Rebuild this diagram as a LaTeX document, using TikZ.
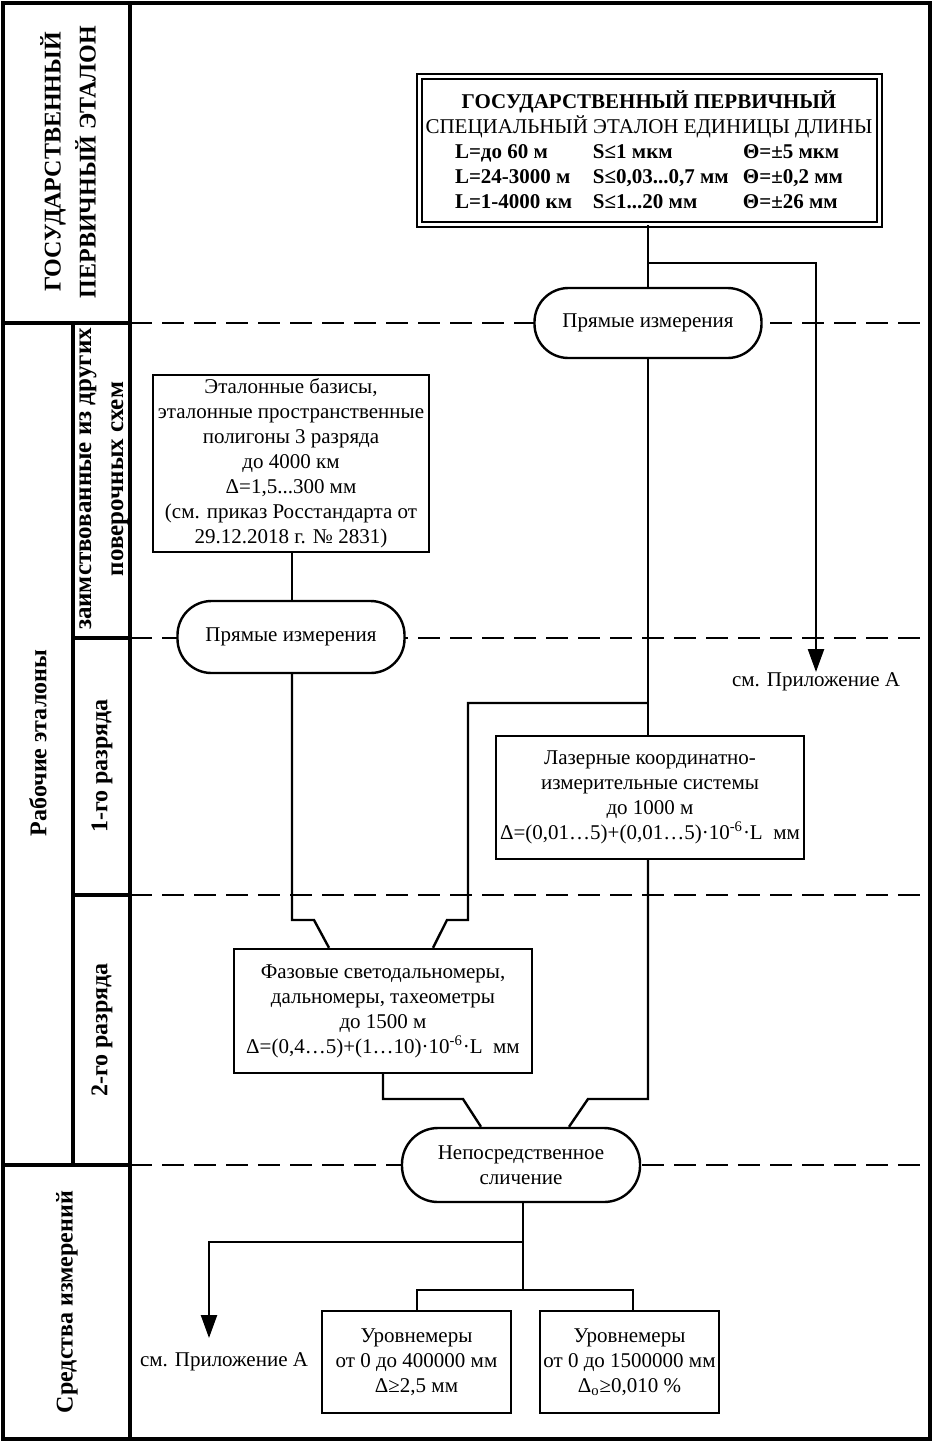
\documentclass[tikz,border=0pt]{standalone}
\usepackage{fontspec}
\setmainfont{Liberation Serif}
\usetikzlibrary{arrows.meta}
\begin{document}
\begin{tikzpicture}[x=0.5pt,y=-0.5pt,
  ln/.style={line width=1.2pt},
  frame/.style={line width=1.6pt},
  box/.style={draw,line width=1.2pt,fill=white,align=center,inner sep=0pt,font=\fontsize{10.5}{12.5}\selectfont},
  pill/.style={box,rounded corners=17pt},
  dsh/.style={line width=1.2pt,dash pattern=on 11pt off 5pt},
  lbl/.style={rotate=90,align=center,font=\bfseries\fontsize{12}{17.5}\selectfont},
  note/.style={font=\fontsize{10.5}{12.5}\selectfont,inner sep=0pt},
  arr/.style={ln,-{Triangle[length=11.5pt,width=8pt]}},
]
\useasboundingbox (0,0) rectangle (934,1442);
% frame and left column
\draw[frame] (3,3) rectangle (930,1439);
\draw[frame] (130,3) -- (130,1439);
\draw[frame] (3,323) -- (130,323);
\draw[frame] (3,1165) -- (130,1165);
\draw[frame] (73,323) -- (73,1165);
\draw[frame] (73,638) -- (130,638);
\draw[frame] (73,895) -- (130,895);
% dashed level lines
\draw[dsh] (130,323) -- (930,323);
\draw[dsh] (130,638) -- (930,638);
\draw[dsh] (130,895) -- (930,895);
\draw[dsh] (130,1165) -- (930,1165);
% left labels
\node[lbl] (l1) at (68,162) {ГОСУДАРСТВЕННЫЙ\\ПЕРВИЧНЫЙ ЭТАЛОН};
\node[lbl] (l2) at (38,743) {Рабочие эталоны};
\node[lbl,font=\bfseries\fontsize{12.5}{16}\selectfont] (l3) at (104,479) {заимствованные из других\\поверочных схем};
\node[lbl] (l4) at (102,766) {1-го разряда};
\node[lbl] (l5) at (102,1030) {2-го разряда};
\node[lbl] (l6) at (67,1302) {Средства измерений};
% nodes
\node[box,double,double distance=1.5pt,line width=1pt,minimum width=230pt,minimum height=74pt] (gpe) at (649,150)
 {\textbf{ГОСУДАРСТВЕННЫЙ ПЕРВИЧНЫЙ}\\
  СПЕЦИАЛЬНЫЙ ЭТАЛОН ЕДИНИЦЫ ДЛИНЫ\\
  \bfseries\makebox[69pt][l]{L=до 60 м}\makebox[75pt][l]{S≤1 мкм}\makebox[50pt][l]{Θ=±5 мкм}\\
  \bfseries\makebox[69pt][l]{L=24-3000 м}\makebox[75pt][l]{S≤0,03...0,7 мм}\makebox[50pt][l]{Θ=±0,2 мм}\\
  \bfseries\makebox[69pt][l]{L=1-4000 км}\makebox[75pt][l]{S≤1...20 мм}\makebox[50pt][l]{Θ=±26 мм}};
\node[pill,minimum width=113.5pt,minimum height=35pt] (pr1) at (648,323) {Прямые измерения};
\node[box,minimum width=138pt,minimum height=88.5pt] (etb) at (291,463.5)
 {Эталонные базисы,\\эталонные пространственные\\полигоны 3 разряда\\до 4000 км\\Δ=1,5...300 мм\\(см. приказ Росстандарта от\\29.12.2018 г. № 2831)};
\node[pill,minimum width=113.5pt,minimum height=36pt] (pr2) at (291,637) {Прямые измерения};
\node[box,minimum width=154pt,minimum height=61.5pt] (las) at (650,797.5)
 {Лазерные координатно-\\измерительные системы\\до 1000 м\\Δ=(0,01…5)+(0,01…5)·10\textsuperscript{-6}·L~~мм};
\node[box,minimum width=149pt,minimum height=62pt] (faz) at (383,1011)
 {Фазовые светодальномеры,\\дальномеры, тахеометры\\до 1500 м\\Δ=(0,4…5)+(1…10)·10\textsuperscript{-6}·L~~мм};
\node[pill,minimum width=119pt,minimum height=37pt,rounded corners=18pt] (nep) at (521,1165) {Непосредственное\\сличение};
\node[box,minimum width=94.5pt,minimum height=51pt] (ur1) at (416.5,1362) {Уровнемеры\\от 0 до 400000 мм\\Δ≥2,5 мм};
\node[box,minimum width=89.5pt,minimum height=51pt] (ur2) at (629.5,1362) {Уровнемеры\\от 0 до 1500000 мм\\Δ\textsubscript{o}≥0,010 \%};
\node[note] (pa1) at (816,682) {см. Приложение А};
\node[note] (pa2) at (224,1362) {см. Приложение А};
% helper coordinates
\coordinate (b1) at (648,263);
\coordinate (b1r) at (816,263);
\coordinate (a1) at (816,672);
\coordinate (b2) at (648,703);
\coordinate (b2l) at (468,703);
\coordinate (b2d) at (468,920);
\coordinate (b2k) at (447,920);
\coordinate (b3) at (292,920);
\coordinate (b3k) at (314,920);
\coordinate (b4) at (383,1099);
\coordinate (b4k) at (463,1099);
\coordinate (b5) at (648,1099);
\coordinate (b5k) at (588,1099);
\coordinate (b6) at (523,1242);
\coordinate (b6l) at (209,1242);
\coordinate (a2) at (209,1338);
\coordinate (b7) at (523,1290);
\coordinate (b7l) at (417,1290);
\coordinate (b7r) at (633,1290);
% connectors
\draw[ln] (gpe.south -| b1) -- (pr1.north -| b1);
\draw[arr] (b1) -- (b1r) -- (a1);
\draw[ln] (pr1.south -| b1) -- (las.north -| b1);
\draw[ln] (b2) -- (b2l) -- (b2d) -- (b2k) -- (faz.north -| 433,0);
\draw[ln] (etb.south -| b3) -- (pr2.north -| b3);
\draw[ln] (pr2.south -| b3) -- (b3) -- (b3k) -- (faz.north -| 329,0);
\draw[ln] (faz.south -| b4) -- (b4) -- (b4k) -- (nep.north -| 481,0);
\draw[ln] (las.south -| b5) -- (b5) -- (b5k) -- (nep.north -| 569,0);
\draw[ln] (nep.south -| b7) -- (b7);
\draw[arr] (b6) -- (b6l) -- (a2);
\draw[ln] (ur1.north -| b7l) -- (b7l) -- (b7r) -- (ur2.north -| b7r);
\end{tikzpicture}
\end{document}
